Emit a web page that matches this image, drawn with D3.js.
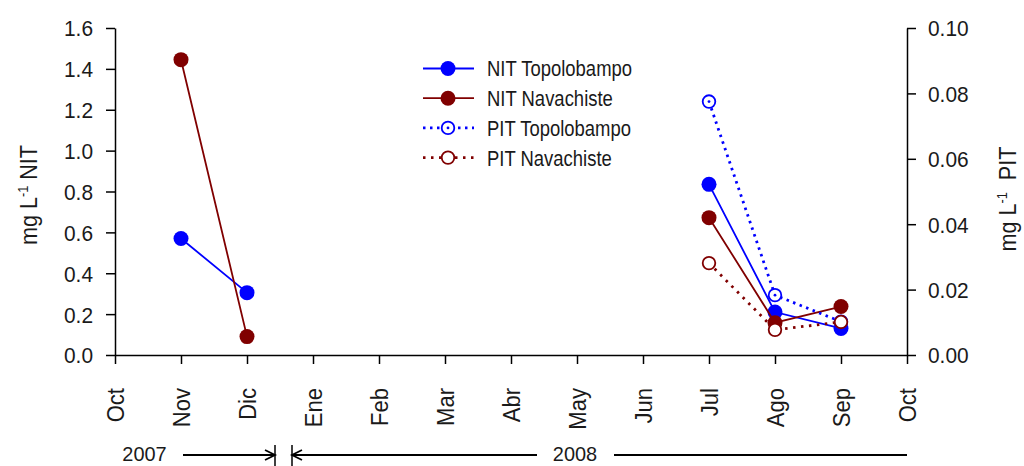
<!DOCTYPE html>
<html>
<head>
<meta charset="utf-8">
<script src="https://cdn.jsdelivr.net/npm/d3@7/dist/d3.min.js"></script>
<style>
html,body{margin:0;padding:0;background:#fff;}
svg text{font-family:"Liberation Sans","Arial",sans-serif;fill:#1a1a1a;}
</style>
</head>
<body>
<svg id="chart" width="1024" height="466"></svg>
<script>
const months = ["Oct","Nov","Dic","Ene","Feb","Mar","Abr","May","Jun","Jul","Ago","Sep","Oct"];
const nitTicks = [0,0.2,0.4,0.6,0.8,1.0,1.2,1.4,1.6];
const pitTicks = [0,0.02,0.04,0.06,0.08,0.10];
// values per month index (null = no sample)
const nitTopolobampo = [null,0.57,0.305,null,null,null,null,null,null,0.835,0.21,0.13,null];
const nitNavachiste  = [null,1.445,0.09,null,null,null,null,null,null,0.672,0.158,0.237,null];
const pitTopolobampo = [null,null,null,null,null,null,null,null,null,0.0775,0.0183,0.0102,null];
const pitNavachiste  = [null,null,null,null,null,null,null,null,null,0.0281,0.0077,0.0101,null];
const seriesNames = ["NIT Topolobampo","NIT Navachiste","PIT Topolobampo","PIT Navachiste"];
const seriesColors = ["#0000ff","#800000","#0000ff","#800000"];
const yearLabels = ["2007","2008"];

const svg = d3.select("#chart");
const L = 115, R = 907, T = 28, B = 355;
const x = d3.scaleLinear().domain([0, months.length - 1]).range([L, R]);
const yN = d3.scaleLinear().domain([0, 1.6]).range([B, T]);
const yP = d3.scaleLinear().domain([0, 0.10]).range([B, T]);

const numFs = 22, numK = 0.95;   // numeric labels
const txtFs = 24, txtK = 0.92;   // month labels

// Axes
const gL = svg.append("g").attr("transform", `translate(${L},0)`)
  .call(d3.axisLeft(yN).tickValues(nitTicks).tickFormat(d3.format(".1f")).tickSize(9).tickSizeOuter(0));
const gR = svg.append("g").attr("transform", `translate(${R},0)`)
  .call(d3.axisRight(yP).tickValues(pitTicks).tickFormat(d3.format(".2f")).tickSize(9).tickSizeOuter(0));
const gB = svg.append("g").attr("transform", `translate(0,${B})`)
  .call(d3.axisBottom(x).tickValues(d3.range(months.length)).tickFormat(i => months[i]).tickSize(9).tickSizeOuter(0));
[gL, gR, gB].forEach(g => {
  g.select(".domain").attr("stroke", "#000").attr("stroke-width", 1.5);
  g.selectAll(".tick line").attr("stroke", "#000").attr("stroke-width", 1.5);
  g.selectAll("text").attr("fill", "#1a1a1a");
});
gL.selectAll(".tick text").style("font-size", numFs + "px")
  .attr("transform", `scale(${numK},1)`).attr("x", -22 / numK).attr("dy", "0.36em");
gR.selectAll(".tick text").style("font-size", numFs + "px")
  .attr("transform", `scale(${numK},1)`).attr("x", 21 / numK).attr("dy", "0.36em");
gB.selectAll(".tick text").style("font-size", txtFs + "px")
  .attr("transform", `rotate(-90) scale(${txtK},1)`)
  .attr("x", -33 / txtK).attr("y", 0).attr("dy", "0.36em")
  .attr("text-anchor", "end");

// Axis titles
function title(tx, ty) {
  return svg.append("g").attr("transform", `translate(${tx},${ty}) rotate(-90) scale(0.9,1)`)
    .append("text").attr("text-anchor", "middle").style("font-size", "24px");
}
const tl = title(37, 195);
tl.append("tspan").text("mg L");
tl.append("tspan").attr("dy", -9).style("font-size", "14px").text("-1");
tl.append("tspan").attr("dy", 9).text(" NIT");
const tr = title(1016, 199);
tr.append("tspan").text("mg L");
tr.append("tspan").attr("dy", -9).style("font-size", "14px").text("-1");
tr.append("tspan").attr("dy", 9).text("\u00a0\u00a0PIT");

// Series
const data = [
  {vals: nitTopolobampo, y: yN, open: false, dash: null},
  {vals: nitNavachiste, y: yN, open: false, dash: null},
  {vals: pitTopolobampo, y: yP, open: true, dash: "2.5,4.5"},
  {vals: pitNavachiste, y: yP, open: true, dash: "2.5,5.5"}
];
data.forEach((s, k) => {
  const pts = s.vals.map((v, i) => ({i, v}));
  const line = d3.line().defined(d => d.v !== null).x(d => x(d.i)).y(d => s.y(d.v));
  const g = svg.append("g");
  g.append("path").attr("d", line(pts)).attr("fill", "none")
    .attr("stroke", seriesColors[k]).attr("stroke-width", s.open ? 2.8 : 1.8)
    .attr("stroke-dasharray", s.dash);
  const pv = pts.filter(d => d.v !== null);
  g.selectAll("circle.m").data(pv).join("circle").attr("class", "m")
    .attr("cx", d => x(d.i)).attr("cy", d => s.y(d.v))
    .attr("r", s.open ? 6.3 : 7.5)
    .attr("fill", s.open ? "#fff" : seriesColors[k])
    .attr("stroke", seriesColors[k]).attr("stroke-width", s.open ? 1.8 : 0);
  if (k === 2) {
    g.selectAll("circle.c").data(pv).join("circle").attr("class", "c")
      .attr("cx", d => x(d.i)).attr("cy", d => s.y(d.v)).attr("r", 1.4).attr("fill", seriesColors[k]);
  }
});

// Legend
const lg = svg.append("g");
seriesNames.forEach((n, k) => {
  const yy = 68.5 + k * 29.7;
  const s = data[k];
  lg.append("line").attr("x1", 423).attr("x2", 474).attr("y1", yy).attr("y2", yy)
    .attr("stroke", seriesColors[k]).attr("stroke-width", s.open ? 2.8 : 1.8)
    .attr("stroke-dasharray", s.dash);
  lg.append("circle").attr("cx", 448).attr("cy", yy).attr("r", s.open ? 6.3 : 7.5)
    .attr("fill", s.open ? "#fff" : seriesColors[k])
    .attr("stroke", seriesColors[k]).attr("stroke-width", s.open ? 1.8 : 0);
  if (k === 2) lg.append("circle").attr("cx", 448).attr("cy", yy).attr("r", 1.4).attr("fill", seriesColors[k]);
  lg.append("g").attr("transform", `translate(487,${yy}) scale(0.84,1)`)
    .append("text").attr("dy", "0.36em").style("font-size", "22px").text(n);
});

// Year annotations
const ya = svg.append("g");
const yy = 455;
const xEnd07 = (x(2) + x(3)) / 2 - 5, xStart08 = (x(2) + x(3)) / 2 + 12;
[[144.5, yearLabels[0]], [575, yearLabels[1]]].forEach(([cx, t]) => {
  ya.append("g").attr("transform", `translate(${cx},${yy - 2}) scale(0.95,1)`)
    .append("text").attr("dy", "0.36em").attr("text-anchor", "middle")
    .style("font-size", "21px").text(t);
});
ya.append("line").attr("x1", 183).attr("x2", xEnd07).attr("y1", yy).attr("y2", yy).attr("stroke", "#000").attr("stroke-width", 2);
ya.append("line").attr("x1", xEnd07).attr("x2", xEnd07).attr("y1", 445).attr("y2", 466).attr("stroke", "#000").attr("stroke-width", 1.5);
ya.append("path").attr("d", `M${xEnd07 - 10},${yy - 5} L${xEnd07},${yy} L${xEnd07 - 10},${yy + 5}`).attr("fill", "none").attr("stroke", "#000").attr("stroke-width", 1.8);
ya.append("line").attr("x1", xStart08).attr("x2", xStart08).attr("y1", 445).attr("y2", 466).attr("stroke", "#000").attr("stroke-width", 1.5);
ya.append("path").attr("d", `M${xStart08 + 10},${yy - 5} L${xStart08},${yy} L${xStart08 + 10},${yy + 5}`).attr("fill", "none").attr("stroke", "#000").attr("stroke-width", 1.8);
ya.append("line").attr("x1", xStart08).attr("x2", 537).attr("y1", yy).attr("y2", yy).attr("stroke", "#000").attr("stroke-width", 2);
ya.append("line").attr("x1", 614).attr("x2", R).attr("y1", yy).attr("y2", yy).attr("stroke", "#000").attr("stroke-width", 2);
</script>
</body>
</html>
